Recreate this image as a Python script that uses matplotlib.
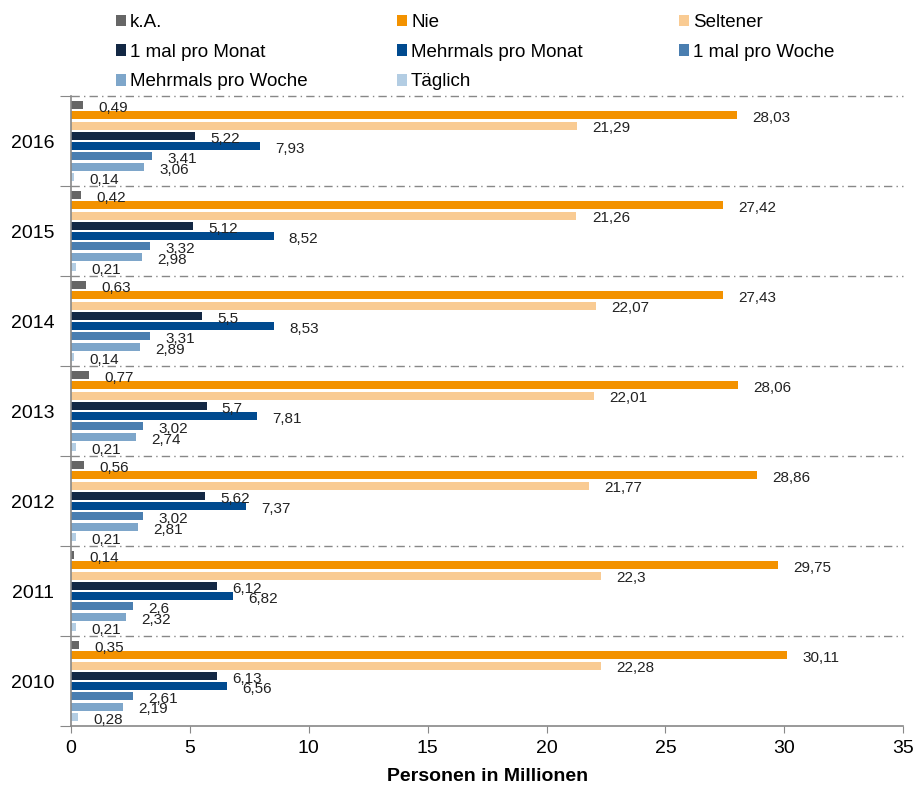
import matplotlib.pyplot as plt
import numpy as np

plt.rcParams['font.family'] = ['Liberation Sans', 'DejaVu Sans']

# Data
years = ['2016', '2015', '2014', '2013', '2012', '2011', '2010']
categories = ['k.A.', 'Nie', 'Seltener', '1 mal pro Monat', 'Mehrmals pro Monat',
              '1 mal pro Woche', 'Mehrmals pro Woche', 'Täglich']
colors = ['#666666', '#F39200', '#F9CB93', '#132844', '#004A8F',
          '#4A7EB0', '#7EA6CA', '#B3CDE3']

ka = [0.49, 0.42, 0.63, 0.77, 0.56, 0.14, 0.35]
nie = [28.03, 27.42, 27.43, 28.06, 28.86, 29.75, 30.11]
seltener = [21.29, 21.26, 22.07, 22.01, 21.77, 22.3, 22.28]
monat_1 = [5.22, 5.12, 5.5, 5.7, 5.62, 6.12, 6.13]
monat_mehr = [7.93, 8.52, 8.53, 7.81, 7.37, 6.82, 6.56]
woche_1 = [3.41, 3.32, 3.31, 3.02, 3.02, 2.6, 2.61]
woche_mehr = [3.06, 2.98, 2.89, 2.74, 2.81, 2.32, 2.19]
taeglich = [0.14, 0.21, 0.14, 0.21, 0.21, 0.21, 0.28]

series = [ka, nie, seltener, monat_1, monat_mehr, woche_1, woche_mehr, taeglich]

fig = plt.figure(figsize=(9.16, 7.87), dpi=100)
ax = fig.add_axes([0.0775, 0.0775, 0.9085, 0.8005])

n = len(years)
group_pos = np.arange(n)[::-1]  # 2016 on top
offsets = np.linspace(0.4, -0.4, len(categories))
bar_h = 0.088

handles = []
for i, (cat, vals, col) in enumerate(zip(categories, series, colors)):
    y = group_pos + offsets[i]
    b = ax.barh(y, vals, height=bar_h, color=col, label=cat)
    handles.append(b)
    for yy, v in zip(y, vals):
        ax.annotate(str(v).replace('.', ','), (v, yy), xytext=(11, -2),
                    textcoords='offset points', va='center', ha='left',
                    fontsize=11, color='#222222')

# group separators
for k in range(n):
    ax.axhline(k + 0.5, color='#888888', lw=1, ls=(0, (6, 3, 1, 3)), clip_on=False)

ax.set_xlim(0, 35)
ax.set_ylim(-0.5, n - 0.5)
ax.set_xticks(np.arange(0, 36, 5))
ax.tick_params(axis='x', labelsize=14, length=5, color='#888888', pad=5)

ax.set_yticks(np.arange(-0.5, n, 1))
ax.set_yticklabels([])
ax.set_yticks(group_pos, minor=True)
ax.set_yticklabels(years, minor=True)
ax.tick_params(axis='y', which='major', length=8, color='#888888')
ax.tick_params(axis='y', which='minor', length=0, labelsize=14, pad=12)

for s in ['top', 'right']:
    ax.spines[s].set_visible(False)
for s in ['left', 'bottom']:
    ax.spines[s].set_color('#888888')
    ax.spines[s].set_linewidth(1.2)

ax.set_xlabel('Personen in Millionen', fontsize=14, fontweight='bold', labelpad=8)

# legend: three columns, filled row by row
col_x = [116, 397, 679]
for c in range(3):
    idx = list(range(c, len(categories), 3))
    leg = fig.legend(handles=[handles[i] for i in idx], labels=[categories[i] for i in idx],
                     loc='upper left', bbox_to_anchor=(col_x[c] / 916, 1 - 14 / 787),
                     frameon=False, fontsize=13.5, borderpad=0, borderaxespad=0,
                     handlelength=0.55, handleheight=0.55, handletextpad=0.2,
                     labelspacing=0.68)

fig.savefig('out.png', dpi=100)
